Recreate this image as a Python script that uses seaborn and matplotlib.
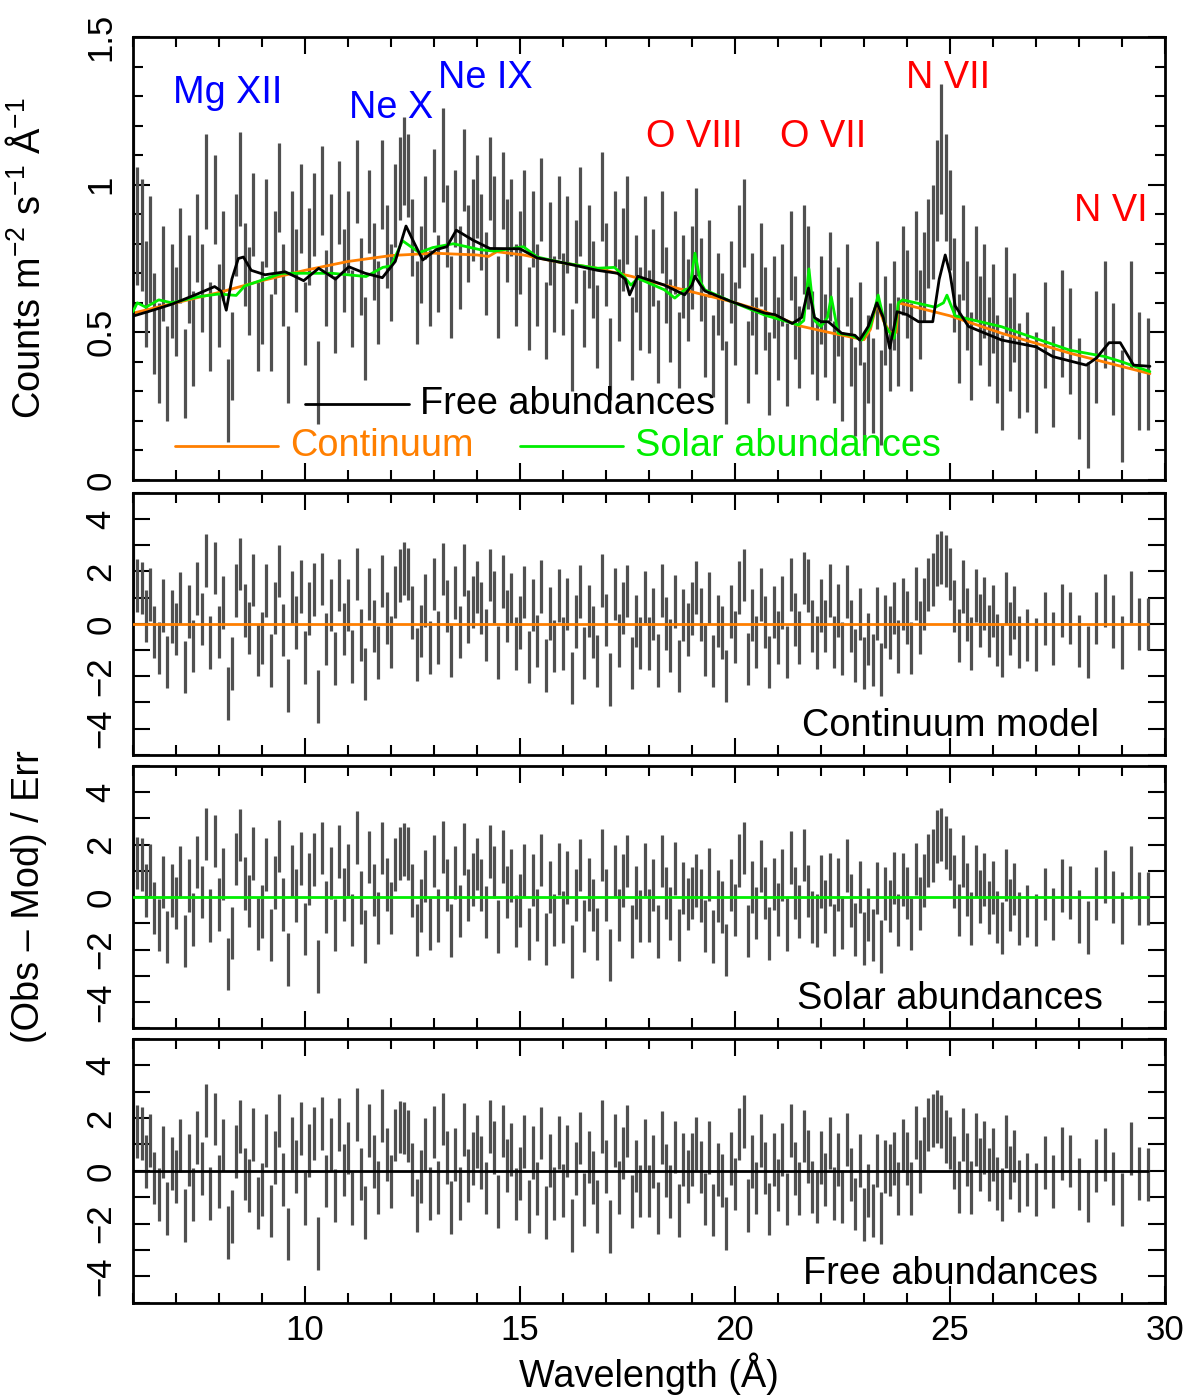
import numpy as np
import matplotlib
matplotlib.use('Agg')
import matplotlib.pyplot as plt
from matplotlib.ticker import MultipleLocator, FixedLocator
import seaborn as sns

sns.set_theme(style='ticks')
plt.rcParams['font.family'] = ['Liberation Sans', 'DejaVu Sans']
plt.rcParams['mathtext.default'] = 'regular'
plt.rcParams['text.color'] = 'black'
plt.rcParams['axes.labelcolor'] = 'black'
plt.rcParams['xtick.color'] = 'black'
plt.rcParams['ytick.color'] = 'black'

# Binned spectrum (wavelength in Angstrom), 0.1 A bins then 0.2 A at the long end
wave = np.round(np.r_[np.arange(6.0, 26.65, 0.1), np.arange(26.8, 29.65, 0.2)], 2)

flux = np.array([
    1.05, 0.86, 0.83, 0.63, 0.78, 0.53, 0.43, 0.70, 0.36, 0.64,
    0.57, 0.76, 0.36, 0.68, 0.48, 0.82, 0.65, 1.01, 0.52, 0.95,
    0.59, 0.76, 0.27, 0.42, 0.83, 1.02, 0.73, 0.64, 0.90, 0.52,
    0.60, 0.87, 0.50, 0.77, 0.99, 0.66, 0.39, 0.84, 0.71, 0.92,
    0.53, 0.79, 0.90, 0.33, 0.98, 0.65, 0.83, 0.56, 0.94, 0.71,
    0.84, 0.58, 1.01, 0.69, 0.48, 0.91, 0.74, 0.60, 1.00, 0.79,
    0.67, 0.93, 1.02, 1.08, 1.03, 0.82, 0.60, 0.73, 0.89, 0.65,
    0.98, 0.70, 1.10, 0.86, 0.62, 0.92, 0.72, 1.05, 0.80, 0.88,
    0.96, 0.84, 0.70, 1.02, 0.90, 0.62, 0.98, 0.81, 0.89, 0.66,
    0.77, 0.92, 0.58, 0.85, 0.66, 0.95, 0.54, 0.80, 0.63, 0.89,
    0.63, 0.83, 0.44, 0.74, 0.91, 0.58, 0.79, 0.68, 0.52, 0.96,
    0.73, 0.41, 0.85, 0.61, 0.78, 0.88, 0.48, 0.70, 0.58, 0.82,
    0.57, 0.72, 0.47, 0.84, 0.66, 0.54, 0.77, 0.44, 0.69, 0.61,
    0.72, 0.84, 0.68, 0.49, 0.75, 0.42, 0.63, 0.57, 0.33, 0.67,
    0.53, 0.79, 0.87, 0.40, 0.63, 0.49, 0.73, 0.58, 0.36, 0.62,
    0.48, 0.66, 0.39, 0.76, 0.55, 0.45, 0.78, 0.72, 0.50, 0.41,
    0.61, 0.49, 0.69, 0.40, 0.57, 0.35, 0.66, 0.47, 0.30, 0.53,
    0.25, 0.41, 0.32, 0.66, 0.28, 0.54, 0.45, 0.59, 0.47, 0.71,
    0.63, 0.45, 0.76, 0.56, 0.69, 0.80, 0.84, 0.98, 1.12, 0.99,
    0.88, 0.66, 0.48, 0.77, 0.59, 0.42, 0.70, 0.54, 0.64, 0.47,
    0.58, 0.41, 0.33, 0.64, 0.46, 0.55, 0.37,
    0.40, 0.33, 0.49, 0.35, 0.53, 0.47, 0.31, 0.22, 0.45, 0.56,
    0.41, 0.25, 0.56, 0.37, 0.36,
])

err = np.array([
    0.24, 0.20, 0.19, 0.18, 0.18, 0.17, 0.17, 0.16, 0.16, 0.16,
    0.15, 0.16, 0.15, 0.15, 0.16, 0.15, 0.15, 0.16, 0.15, 0.15,
    0.14, 0.15, 0.14, 0.15, 0.14, 0.16, 0.14, 0.15, 0.14, 0.15,
    0.14, 0.15, 0.13, 0.14, 0.15, 0.14, 0.13, 0.14, 0.14, 0.15,
    0.14, 0.13, 0.14, 0.14, 0.15, 0.13, 0.14, 0.13, 0.14, 0.14,
    0.14, 0.13, 0.14, 0.13, 0.14, 0.14, 0.13, 0.14, 0.15, 0.14,
    0.13, 0.14, 0.14, 0.15, 0.14, 0.13, 0.14, 0.13, 0.14, 0.13,
    0.14, 0.13, 0.16, 0.14, 0.14, 0.13, 0.14, 0.14, 0.13, 0.14,
    0.14, 0.13, 0.14, 0.14, 0.13, 0.14, 0.13, 0.14, 0.13, 0.14,
    0.14, 0.13, 0.14, 0.13, 0.14, 0.14, 0.13, 0.14, 0.13, 0.14,
    0.14, 0.13, 0.14, 0.14, 0.15, 0.13, 0.14, 0.13, 0.14, 0.15,
    0.14, 0.14, 0.13, 0.14, 0.14, 0.15, 0.14, 0.13, 0.14, 0.14,
    0.14, 0.13, 0.14, 0.14, 0.13, 0.14, 0.14, 0.13, 0.14, 0.14,
    0.14, 0.15, 0.14, 0.14, 0.13, 0.14, 0.14, 0.13, 0.14, 0.14,
    0.14, 0.14, 0.15, 0.14, 0.14, 0.13, 0.14, 0.14, 0.14, 0.14,
    0.14, 0.14, 0.14, 0.15, 0.14, 0.14, 0.15, 0.14, 0.14, 0.14,
    0.15, 0.14, 0.15, 0.14, 0.15, 0.15, 0.14, 0.15, 0.15, 0.14,
    0.15, 0.15, 0.16, 0.15, 0.16, 0.15, 0.15, 0.15, 0.15, 0.15,
    0.15, 0.15, 0.15, 0.15, 0.15, 0.15, 0.16, 0.17, 0.22, 0.18,
    0.17, 0.16, 0.15, 0.16, 0.15, 0.15, 0.16, 0.15, 0.16, 0.15,
    0.15, 0.15, 0.16, 0.15, 0.16, 0.15, 0.16,
    0.17, 0.17, 0.18, 0.17, 0.18, 0.18, 0.17, 0.18, 0.19, 0.18,
    0.19, 0.19, 0.18, 0.20, 0.19,
])

# Model curves
cont_wave = [6.0, 7.0, 8.0, 9.0, 10.0, 11.0, 12.0, 13.0, 14.0, 14.27, 14.46,
             15.08, 16.0, 16.8, 17.27, 17.58, 18.36, 19.14, 19.92, 20.7, 21.5,
             22.3, 23.0, 23.15, 23.3, 23.45, 23.6, 23.75, 23.8, 25.0, 26.2,
             27.8, 29.65]
cont_val = [0.565, 0.60, 0.635, 0.675, 0.71, 0.74, 0.76, 0.768, 0.762, 0.757,
            0.773, 0.762, 0.735, 0.717, 0.70, 0.69, 0.66, 0.632, 0.604, 0.57,
            0.522, 0.496, 0.475, 0.51, 0.60, 0.54, 0.50, 0.50, 0.60, 0.556,
            0.497, 0.429, 0.36]

solar_wave = [6.0, 6.1, 6.3, 6.6, 6.9, 7.5, 8.0, 8.4, 8.6, 9.46, 10.63, 11.42,
              11.81, 12.0, 12.27, 12.66, 12.97, 13.45, 14.07, 14.4, 15.08,
              15.4, 16.02, 16.8, 17.2, 17.42, 17.58, 17.74, 18.36, 18.6,
              18.83, 18.95, 19.07, 19.2, 19.3, 19.92, 20.7, 21.48, 21.6,
              21.72, 21.85, 22.0, 22.15, 22.24, 22.4, 22.7, 22.95, 23.15,
              23.33, 23.5, 23.7, 23.8, 23.9, 24.66, 24.85, 24.93, 25.0, 25.12,
              26.2, 27.78, 28.6, 29.0, 29.65]
solar_val = [0.57, 0.60, 0.585, 0.61, 0.60, 0.62, 0.63, 0.625, 0.657, 0.70,
             0.70, 0.689, 0.72, 0.725, 0.81, 0.77, 0.787, 0.80, 0.78, 0.775,
             0.79, 0.755, 0.735, 0.717, 0.72, 0.689, 0.66, 0.683, 0.644,
             0.616, 0.644, 0.65, 0.768, 0.67, 0.644, 0.604, 0.558, 0.525,
             0.54, 0.715, 0.54, 0.52, 0.55, 0.62, 0.497, 0.49, 0.474, 0.52,
             0.626, 0.52, 0.48, 0.60, 0.61, 0.585, 0.60, 0.626, 0.60, 0.556,
             0.519, 0.44, 0.418, 0.40, 0.367]

free_wave = [6.0, 6.35, 6.9, 7.5, 7.9, 8.05, 8.17, 8.3, 8.45, 8.57, 8.75,
             9.07, 9.54, 9.97, 10.32, 10.71, 11.02, 11.4, 11.8, 12.1, 12.35,
             12.55, 12.74, 13.05, 13.3, 13.52, 13.91, 14.3, 15.0, 15.4,
             16.02, 16.8, 17.27, 17.45, 17.55, 17.74, 18.36, 18.83, 19.0,
             19.07, 19.2, 19.3, 19.92, 20.7, 20.93, 21.33, 21.55, 21.71,
             21.85, 22.0, 22.17, 22.48, 22.79, 22.9, 23.1, 23.3, 23.45,
             23.6, 23.77, 24.0, 24.27, 24.6, 24.75, 24.89, 25.0, 25.12,
             25.43, 26.2, 27.0, 27.39, 28.17, 28.4, 28.7, 28.96, 29.27,
             29.65]
free_val = [0.555, 0.57, 0.595, 0.63, 0.655, 0.64, 0.575, 0.68, 0.75, 0.755,
            0.71, 0.695, 0.705, 0.675, 0.717, 0.68, 0.722, 0.70, 0.685, 0.74,
            0.86, 0.80, 0.745, 0.78, 0.79, 0.846, 0.812, 0.784, 0.783, 0.752,
            0.735, 0.71, 0.70, 0.68, 0.627, 0.69, 0.66, 0.627, 0.66, 0.69,
            0.66, 0.64, 0.604, 0.565, 0.56, 0.53, 0.55, 0.65, 0.55, 0.536,
            0.536, 0.497, 0.49, 0.474, 0.52, 0.60, 0.55, 0.446, 0.57, 0.56,
            0.536, 0.536, 0.68, 0.762, 0.70, 0.59, 0.52, 0.474, 0.451,
            0.418, 0.389, 0.412, 0.465, 0.465, 0.389, 0.385]

ion_labels = ['Mg XII', 'Ne X', 'Ne IX', 'O VIII', 'O VII', 'N VII', 'N VI']
ion_wave = [8.2, 12.0, 14.2, 19.05, 22.05, 24.95, 28.75]
ion_height = [1.31, 1.26, 1.36, 1.16, 1.16, 1.36, 0.91]
ion_colors = ['#0000ff'] * 3 + ['#ff0000'] * 4

c_orange = '#ff7f00'
c_green = '#00ee00'
c_bar = '#505050'

models = [
    ('Continuum model', np.interp(wave, cont_wave, cont_val), c_orange),
    ('Solar abundances', np.interp(wave, solar_wave, solar_val), c_green),
    ('Free abundances', np.interp(wave, free_wave, free_val), 'black'),
]

fig = plt.figure(figsize=(12, 13.97), dpi=100)
L, W = 0.1108, 0.86
ax0 = fig.add_axes([L, 0.6564, W, 0.3171])
res_axes = [fig.add_axes([L, 0.4596, W, 0.1877]),
            fig.add_axes([L, 0.2639, W, 0.1878]),
            fig.add_axes([L, 0.0675, W, 0.1888])]

TICK = 25
TXT = 27.3
BAR_LW = 2.3


def style_axis(ax):
    for s in ax.spines.values():
        s.set_linewidth(2.0)
        s.set_color('black')
    ax.tick_params(which='both', direction='in', top=True, right=True,
                   width=1.5, color='black', labelsize=TICK, labelcolor='black')
    ax.tick_params(which='major', length=12)
    ax.tick_params(axis='y', labelrotation=90, pad=11)
    ax.set_xlim(6, 30)
    ax.xaxis.set_major_locator(MultipleLocator(5))
    ax.xaxis.set_minor_locator(MultipleLocator(1))
    ax.grid(False)
    ax.set_facecolor('white')


# Top panel: spectrum + models
style_axis(ax0)
ax0.tick_params(which='minor', length=7)
ax0.vlines(wave, flux - err, flux + err, color=c_bar, lw=BAR_LW, zorder=1)
sns.lineplot(x=cont_wave, y=cont_val, ax=ax0, color=c_orange, lw=2.0,
             sort=False, estimator=None, zorder=2)
sns.lineplot(x=solar_wave, y=solar_val, ax=ax0, color=c_green, lw=2.0,
             sort=False, estimator=None, zorder=3)
sns.lineplot(x=free_wave, y=free_val, ax=ax0, color='black', lw=2.0,
             sort=False, estimator=None, zorder=4)
ax0.set_ylim(0, 1.5)
ax0.yaxis.set_major_locator(FixedLocator([0, 0.5, 1, 1.5]))
ax0.yaxis.set_minor_locator(MultipleLocator(0.1))
ax0.set_yticklabels(['0', '0.5', '1', '1.5'], va='center')
ax0.tick_params(axis='x', labelbottom=False)
for lab, x, y, c in zip(ion_labels, ion_wave, ion_height, ion_colors):
    ax0.text(x, y, lab, color=c, fontsize=TXT, ha='center', va='center')

# hand-placed legend, as in the original figure
leg = [('Free abundances', 'black', 0.167, 0.172),
       ('Continuum', c_orange, 0.041, 0.077),
       ('Solar abundances', c_green, 0.375, 0.077)]
for lab, c, x0, y0 in leg:
    ax0.plot([x0, x0 + 0.100], [y0, y0], color=c, lw=2.0,
             transform=ax0.transAxes)
    ax0.text(x0 + 0.111, y0, lab, color=c, fontsize=TXT, ha='left',
             va='center', transform=ax0.transAxes)

# Residual panels
for ax, (name, mod, col) in zip(res_axes, models):
    style_axis(ax)
    ax.tick_params(which='minor', length=12)
    ax.tick_params(axis='x', which='minor', length=7)
    resid = (flux - mod) / err
    ax.vlines(wave, resid - 1, resid + 1, color=c_bar, lw=BAR_LW, zorder=1)
    ax.plot([wave[0], wave[-1]], [0, 0], color=col, lw=2.0, zorder=3)
    ax.set_ylim(-5, 5)
    ax.yaxis.set_major_locator(MultipleLocator(2))
    ax.yaxis.set_minor_locator(MultipleLocator(1))
    for t in ax.get_yticklabels():
        t.set_va('center')
    ax.text(0.792, 0.11, name, fontsize=TXT, ha='center', va='center',
            transform=ax.transAxes, color='black')
    if ax is not res_axes[-1]:
        ax.tick_params(axis='x', labelbottom=False)

res_axes[-1].tick_params(axis='x', pad=8)
res_axes[-1].set_xlabel('Wavelength (Å)', fontsize=TXT, labelpad=4)

fig.text(29 / 1200, 1 - 258 / 1397, r'Counts m$^{-2}$ s$^{-1}$ Å$^{-1}$',
         rotation=90, ha='center', va='center', fontsize=TXT)
fig.text(29 / 1200, 1 - 897 / 1397, '(Obs – Mod) / Err',
         rotation=90, ha='center', va='center', fontsize=TXT)

fig.savefig('out.png', dpi=100, facecolor='white')
